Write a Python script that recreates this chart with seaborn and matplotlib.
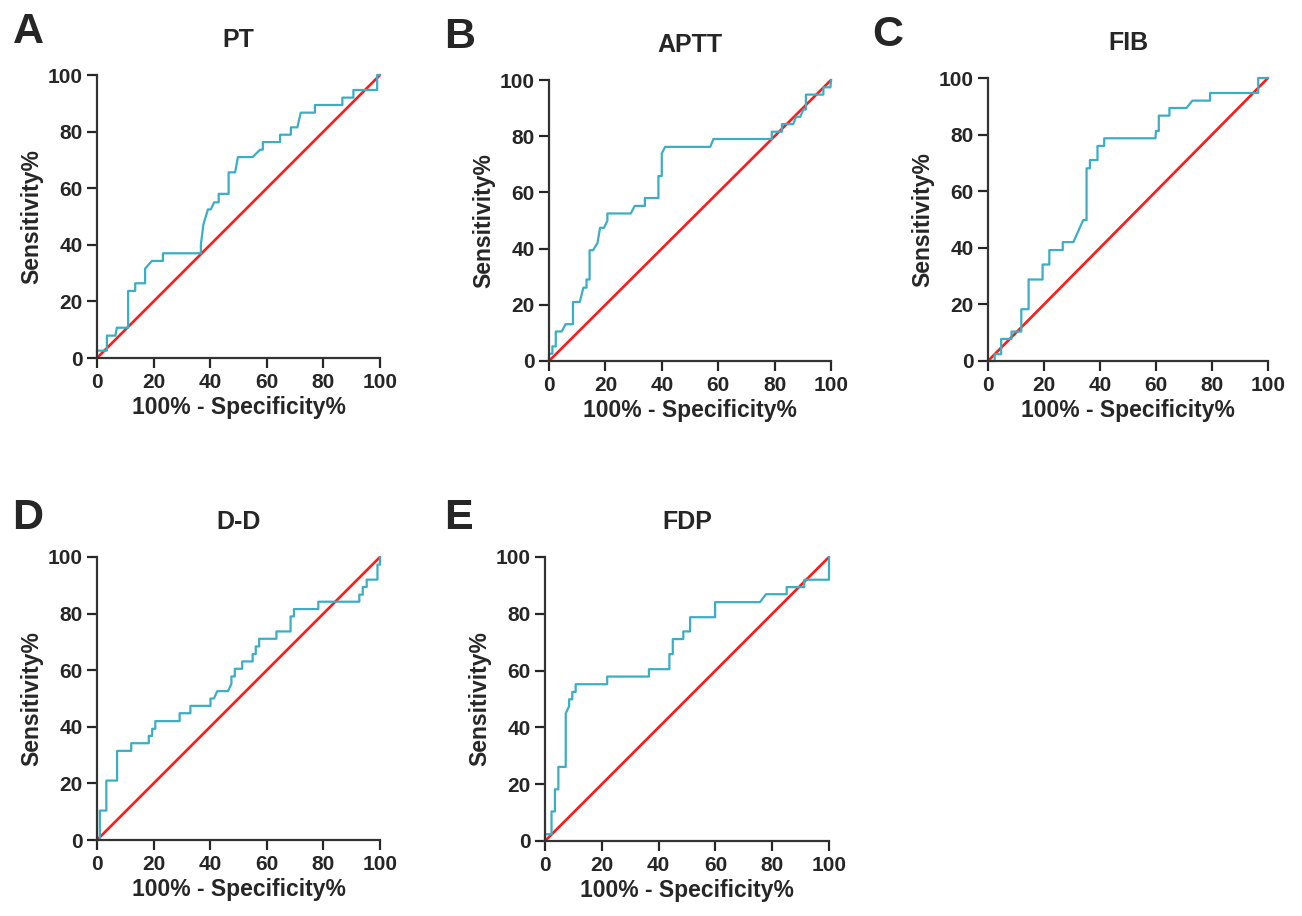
import matplotlib
matplotlib.use("Agg")
import matplotlib.pyplot as plt
import seaborn as sns

# ROC curves: (100% - Specificity%, Sensitivity%)
pt_x = [0, 0, 3.5, 3.5, 6.5, 7, 11, 11, 13.5, 13.5, 17, 17, 19.4, 23.3, 23.3, 36.7, 36.7, 37.6, 39.2, 40.2, 41.4, 43, 43, 46.5, 46.5, 48.8, 49.8, 55, 57.6, 58.6, 58.6, 64.7, 64.7, 68.5, 68.5, 70.8, 72, 77, 77, 86.7, 86.7, 90.6, 90.6, 99, 99, 100]
pt_y = [0, 2.6, 2.6, 7.9, 7.9, 10.7, 10.7, 23.7, 23.7, 26.4, 26.4, 31.6, 34.3, 34.3, 37, 37, 40, 47.2, 52.5, 52.5, 55, 55, 58, 58, 65.6, 65.6, 71, 71, 73.6, 73.6, 76.3, 76.3, 78.9, 78.9, 81.5, 81.5, 86.7, 86.7, 89.4, 89.4, 92, 92, 94.7, 94.7, 100, 100]

aptt_x = [0, 0, 1.2, 1.2, 2.4, 2.4, 4.5, 5.9, 8.5, 8.5, 10.9, 12.2, 13.3, 13.3, 14.4, 14.4, 15.6, 17.2, 18.1, 19.5, 20.7, 20.7, 29, 30.4, 34, 34, 38.8, 38.8, 40, 40, 41.2, 57.2, 58.3, 79, 79, 82.6, 82.6, 86.6, 87.6, 89.1, 90.2, 91.1, 91.1, 97.3, 97.3, 99.8, 100]
aptt_y = [0, 2.6, 2.6, 5.2, 5.2, 10.5, 10.5, 13.1, 13.1, 21, 21, 26.1, 26.1, 29, 29, 39.4, 39.4, 42, 47.4, 47.4, 49.9, 52.5, 52.5, 55.2, 55.2, 58, 58, 65.8, 65.8, 73.9, 76.2, 76.2, 79, 79, 81.6, 81.6, 84.3, 84.3, 86.9, 86.9, 89.5, 89.5, 94.8, 94.8, 97.4, 97.4, 100]

fib_x = [0, 2.4, 2.4, 4.7, 4.7, 8.4, 8.4, 11.9, 11.9, 14.5, 14.5, 19.5, 19.5, 21.9, 21.9, 26.7, 26.7, 30.5, 34, 35.2, 35.2, 36.4, 36.4, 39.1, 39.1, 41.5, 41.5, 59.8, 60, 61, 61, 64.8, 64.8, 70.9, 73, 79.3, 79.3, 96.5, 96.5, 100]
fib_y = [0, 0, 2.4, 2.4, 7.8, 7.8, 10.4, 10.4, 18.3, 18.3, 28.8, 28.8, 34.1, 34.1, 39.2, 39.2, 42, 42, 49.8, 49.8, 68.1, 68.1, 71, 71, 76, 76, 78.7, 78.7, 81.3, 81.3, 86.7, 86.7, 89.4, 89.4, 92, 92, 94.7, 94.7, 100, 100]

dd_x = [0, 1, 1, 3.3, 3.3, 7.1, 7.1, 12.1, 12.1, 18.3, 18.3, 19.5, 19.5, 20.6, 20.6, 29.2, 29.2, 33, 33, 40.1, 40.1, 41.3, 42.5, 46.3, 47.5, 47.5, 48.7, 48.7, 51.3, 51.3, 55, 55, 56.1, 56.1, 57.3, 57.3, 63.4, 63.4, 68.4, 68.4, 69.6, 69.6, 78.2, 78.2, 92.7, 92.7, 93.9, 93.9, 95.3, 95.3, 99.1, 99.1, 100, 100]
dd_y = [0, 0, 10.4, 10.4, 21, 21, 31.5, 31.5, 34.2, 34.2, 36.8, 36.8, 39.3, 39.3, 42, 42, 44.8, 44.8, 47.4, 47.4, 50, 50, 52.6, 52.6, 55.2, 57.8, 57.8, 60.5, 60.5, 63.1, 63.1, 65.7, 65.7, 68.4, 68.4, 71.1, 71.1, 73.7, 73.7, 79, 79, 81.6, 81.6, 84.2, 84.2, 86.7, 86.7, 89.4, 89.4, 92, 92, 97.3, 97.3, 100]

fdp_x = [0, 0, 2.3, 2.3, 3.5, 3.5, 4.7, 4.7, 7.3, 7.3, 8.5, 8.5, 9.6, 9.6, 10.8, 10.8, 21.9, 21.9, 36.6, 36.6, 43.8, 43.8, 45, 45, 48.7, 48.7, 51.1, 51.1, 59.9, 59.9, 75.7, 77.8, 85.1, 85.1, 91.3, 91.3, 100, 100]
fdp_y = [0, 2.4, 2.4, 10.4, 10.4, 18.2, 18.2, 26.1, 26.1, 44.9, 47.5, 49.9, 49.9, 52.5, 52.5, 55.2, 55.2, 57.9, 57.9, 60.5, 60.5, 65.8, 65.8, 71.1, 71.1, 73.8, 73.8, 78.8, 78.8, 84.1, 84.1, 86.9, 86.9, 89.4, 89.4, 92, 92, 100]

ref_line = [0, 100]
titles = ["PT", "APTT", "FIB", "D-D", "FDP"]
letters = ["A", "B", "C", "D", "E"]
ticks = [0, 20, 40, 60, 80, 100]
curves = [(pt_x, pt_y), (aptt_x, aptt_y), (fib_x, fib_y), (dd_x, dd_y), (fdp_x, fdp_y)]

sns.set_style("ticks")
plt.rcParams["font.family"] = ["Liberation Sans", "DejaVu Sans"]
W, H = 1302, 916
fig = plt.figure(figsize=(W / 100, H / 100), dpi=100)

# axes boxes in pixels: left, top, right, bottom
boxes = [(97, 75, 380, 358), (549, 80, 831, 361), (988, 78, 1268, 361),
         (97, 557, 380, 840), (545, 557, 829, 841)]
letter_pos = [(28, 32), (460, 37), (888, 35), (28, 518), (458, 518)]

for i, ((cx, cy), (l, t, r, b)) in enumerate(zip(curves, boxes)):
    ax = fig.add_axes([l / W, 1 - b / H, (r - l) / W, (b - t) / H])
    sns.lineplot(x=ref_line, y=ref_line, ax=ax, color="#FF1A1A", linewidth=1.9, clip_on=False)
    sns.lineplot(x=cx, y=cy, ax=ax, sort=False, estimator=None, color="#3AAFC4",
                 linewidth=1.6, clip_on=False)
    ax.set_xlim(0, 100)
    ax.set_ylim(0, 100)
    ax.set_xticks(ticks)
    ax.set_yticks(ticks)
    ax.tick_params(width=1.6, length=7, labelsize=15)
    for lab in ax.get_xticklabels() + ax.get_yticklabels():
        lab.set_fontweight("bold")
    for s in ["left", "bottom"]:
        ax.spines[s].set_linewidth(1.6)
        ax.spines[s].set_color("#333333")
    sns.despine(ax=ax)
    ax.set_xlabel("100% - Specificity%", fontsize=16.5, fontweight="bold", labelpad=3)
    ax.set_ylabel("Sensitivity%", fontsize=16.5, fontweight="bold", labelpad=3)
    ax.set_title(titles[i], fontsize=18, fontweight="bold", pad=20)
    fig.text(letter_pos[i][0] / W, 1 - letter_pos[i][1] / H, letters[i],
             fontsize=31, fontweight="bold", ha="center", va="center")

fig.savefig("out.png", dpi=100)
